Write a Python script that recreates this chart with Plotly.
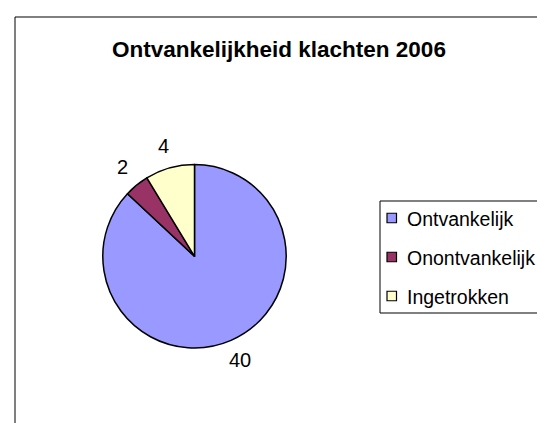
import math
import plotly.graph_objects as go

W, H = 545, 423
labels = ["Ontvankelijk", "Onontvankelijk", "Ingetrokken"]
values = [40, 2, 4]
colors = ["#9999FF", "#993366", "#FFFFCC"]
title = "Ontvankelijkheid klachten 2006"

FONT = "Liberation Sans"
CX, CY, R = 186.5, 248.3, 91.7   # pie centre / radius in pixels
LABEL_R = R + 22                  # distance of value labels from centre


def px(x):
    return x / W


def py(y):
    return 1 - y / H


fig = go.Figure(go.Pie(
    labels=labels, values=values, sort=False, direction="clockwise", rotation=0,
    marker=dict(colors=colors, line=dict(color="black", width=1.5)),
    textinfo="none",
    domain=dict(x=[px(CX - R), px(CX + R)], y=[py(CY + R), py(CY - R)]),
    showlegend=False, hoverinfo="label+value",
))

annotations = []
# value labels placed around the pie at each slice's mid-angle (clockwise from 12 o'clock)
total = sum(values)
cum = 0
for v in values:
    mid = (cum + v / 2) / total * 2 * math.pi
    cum += v
    x = CX + LABEL_R * math.sin(mid)
    y = CY - LABEL_R * math.cos(mid)
    annotations.append(dict(xref="paper", yref="paper", x=px(x), y=py(y - 1), text=str(v),
                            showarrow=False, xanchor="center", yanchor="middle",
                            font=dict(family=FONT, size=20, color="black")))

shapes = [
    # chart border (left + top visible)
    dict(type="rect", xref="paper", yref="paper", x0=px(7), x1=1.2, y0=-0.2, y1=py(9),
         line=dict(color="black", width=1)),
    # legend box
    dict(type="rect", xref="paper", yref="paper", x0=px(372), x1=px(542), y0=py(305), y1=py(193),
         line=dict(color="black", width=1), fillcolor="white"),
]
rows = [210, 249, 288]
for lab, col, yc in zip(labels, colors, rows):
    shapes.append(dict(type="rect", xref="paper", yref="paper",
                       x0=px(379), x1=px(388.5), y0=py(yc + 4.75), y1=py(yc - 4.75),
                       line=dict(color="black", width=1.2), fillcolor=col))
    annotations.append(dict(xref="paper", yref="paper", x=px(397), y=py(yc + 1), text=lab,
                            showarrow=False, xanchor="left", yanchor="middle",
                            font=dict(family=FONT, size=19.5, color="black")))

annotations.append(dict(xref="paper", yref="paper", x=px(271), y=py(41), text="<b>" + title + "</b>",
                        showarrow=False, xanchor="center", yanchor="middle",
                        font=dict(family=FONT, size=22.5, color="black")))

fig.update_layout(
    width=W, height=H, margin=dict(l=0, r=0, t=0, b=0),
    paper_bgcolor="white", plot_bgcolor="white",
    font=dict(family=FONT),
    shapes=shapes, annotations=annotations,
)
fig.write_html("out.html")
